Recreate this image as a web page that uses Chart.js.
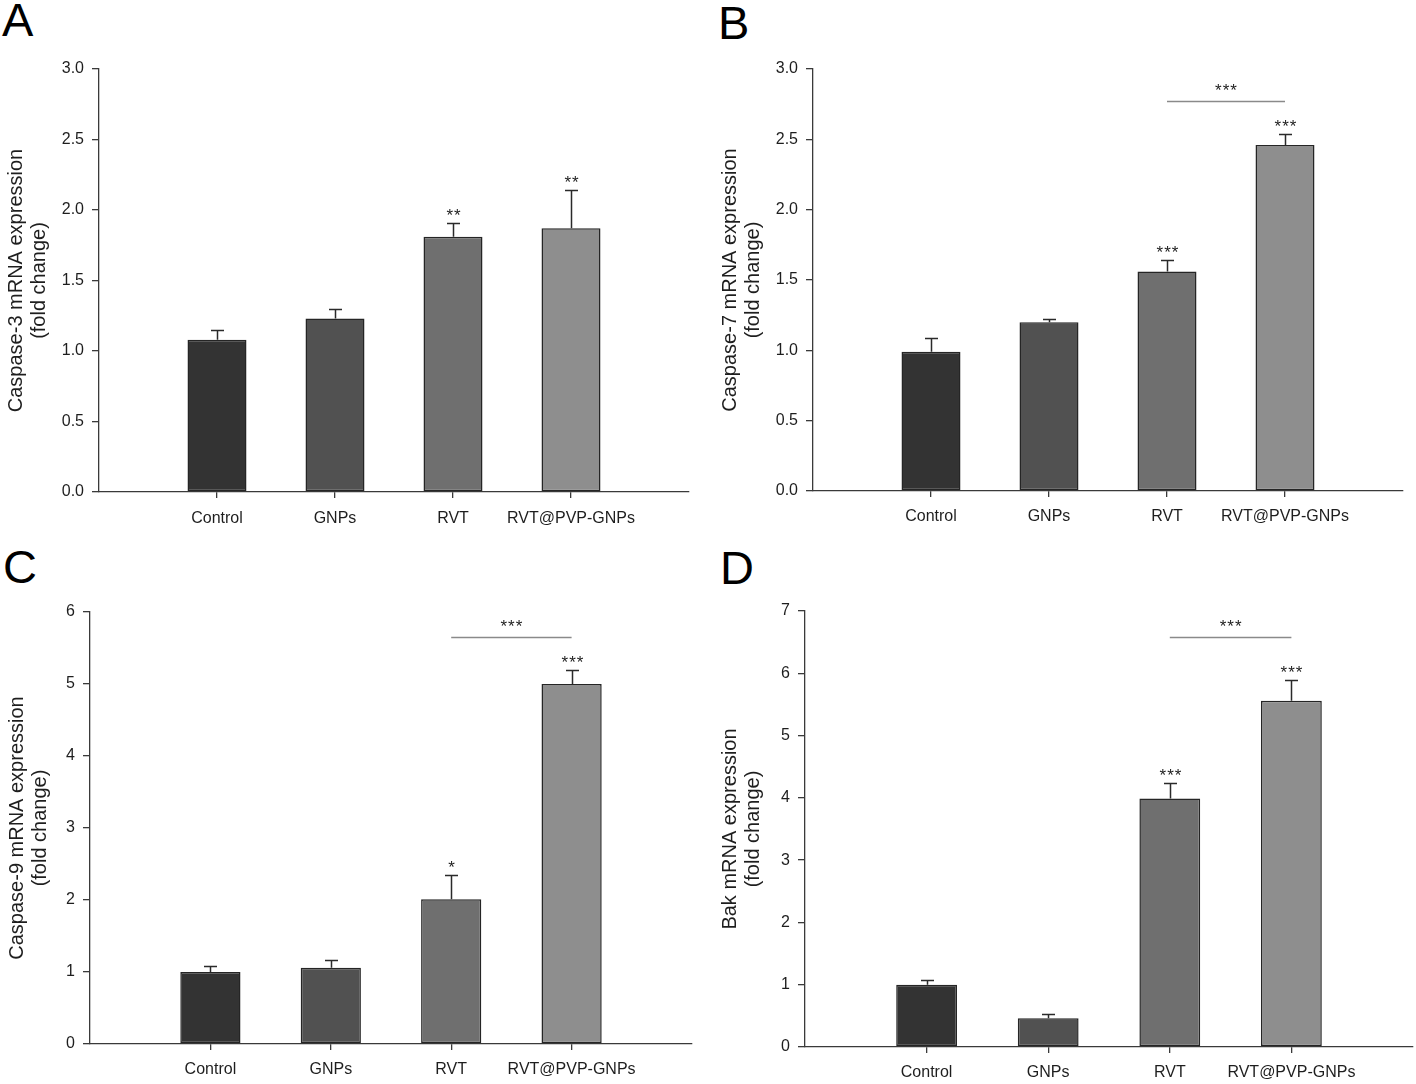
<!DOCTYPE html>
<html><head><meta charset="utf-8">
<script src="https://cdn.jsdelivr.net/npm/chart.js@4/dist/chart.umd.min.js"></script>
<style>
html,body{margin:0;padding:0;background:#fff;width:1416px;height:1084px;overflow:hidden;}
canvas{position:absolute;}
.letter{position:absolute;font-family:"Liberation Sans",Arial,sans-serif;font-size:47px;line-height:1;color:#000;}
</style></head><body>
<div class="letter" style="left:2px;top:-4px">A</div>
<div class="letter" style="left:718px;top:-1px">B</div>
<div class="letter" style="left:3px;top:543px">C</div>
<div class="letter" style="left:720px;top:544px">D</div>
<canvas id="cA" style="left:0px;top:0px" width="708" height="545"></canvas>
<canvas id="cB" style="left:708px;top:0px" width="708" height="545"></canvas>
<canvas id="cC" style="left:0px;top:545px" width="708" height="539"></canvas>
<canvas id="cD" style="left:708px;top:545px" width="708" height="539"></canvas>
<script>
// ---- data ----
const categories = ['Control', 'GNPs', 'RVT', 'RVT@PVP-GNPs'];
const barColors = ['#333333', '#515151', '#6f6f6f', '#8e8e8e'];

const meanA = [1.08, 1.23, 1.81, 1.87];
const semA  = [0.07, 0.07, 0.10, 0.27];
const starsA = ['', '', '**', '**'];

const meanB = [0.99, 1.20, 1.56, 2.46];
const semB  = [0.10, 0.02, 0.08, 0.08];
const starsB = ['', '', '***', '***'];
const bracketB = {from: 3, to: 4, y: 2.77, label: '***'};

const meanC = [1.00, 1.06, 2.01, 5.00];
const semC  = [0.09, 0.11, 0.34, 0.20];
const starsC = ['', '', '*', '***'];
const bracketC = {from: 3, to: 4, y: 5.65, label: '***'};

const meanD = [1.00, 0.46, 3.99, 5.56];
const semD  = [0.07, 0.07, 0.25, 0.33];
const starsD = ['', '', '***', '***'];
const bracketD = {from: 3, to: 4, y: 6.59, label: '***'};

const yTicksA = [0.0, 0.5, 1.0, 1.5, 2.0, 2.5, 3.0];
const yTicksB = [0.0, 0.5, 1.0, 1.5, 2.0, 2.5, 3.0];
const yTicksC = [0, 1, 2, 3, 4, 5, 6];
const yTicksD = [0, 1, 2, 3, 4, 5, 6, 7];

const titleA = ['Caspase-3 mRNA expression', '(fold change)'];
const titleB = ['Caspase-7 mRNA expression', '(fold change)'];
const titleC = ['Caspase-9 mRNA expression', '(fold change)'];
const titleD = ['Bak mRNA expression', '(fold change)'];

// ---- drawing ----
const FONT = '"Liberation Sans", Arial, sans-serif';
const AXIS = '#3a3a3a';
const TXT = '#1e1e1e';

function makeChart(id, means, sems, stars, bracket, yTicks, decimals, title, lay) {
  const annot = {
    id: 'annot_' + id,
    afterDatasetsDraw(chart) {
      const ctx = chart.ctx, x = chart.scales.x, y = chart.scales.y;
      ctx.save();
      ctx.strokeStyle = '#2a2a2a';
      ctx.lineWidth = 1.5;
      ctx.fillStyle = TXT;
      ctx.font = '17px ' + FONT;
      ctx.textAlign = 'center';
      ctx.textBaseline = 'middle';
      try { ctx.letterSpacing = '1px'; } catch (e) {}
      means.forEach((m, i) => {
        const px = Math.round(x.getPixelForValue(i + 1)) + 0.5;
        const y0 = y.getPixelForValue(m);
        const y1 = Math.round(y.getPixelForValue(m + sems[i])) + 0.5;
        ctx.beginPath();
        ctx.moveTo(px, y0);
        ctx.lineTo(px, y1);
        ctx.moveTo(px - 6.5, y1);
        ctx.lineTo(px + 6.5, y1);
        ctx.stroke();
        if (stars[i]) ctx.fillText(stars[i], px + 0.5, y1 - 7.5);
      });
      if (bracket) {
        const xa = x.getPixelForValue(bracket.from);
        const xb = x.getPixelForValue(bracket.to);
        const yb = Math.round(y.getPixelForValue(bracket.y)) + 0.5;
        ctx.strokeStyle = '#8a8a8a';
        ctx.beginPath();
        ctx.moveTo(xa, yb);
        ctx.lineTo(xb, yb);
        ctx.stroke();
        ctx.fillText(bracket.label, (xa + xb) / 2 + 0.5, yb - 10.5);
      }
      ctx.restore();
    }
  };
  return new Chart(document.getElementById(id), {
    type: 'bar',
    data: {
      datasets: [{
        data: means.map((v, i) => ({x: i + 1, y: v})),
        backgroundColor: barColors,
        borderColor: '#252525',
        borderWidth: 1.5,
        borderSkipped: false,
        categoryPercentage: 1.0,
        barPercentage: 0.5
      }]
    },
    options: {
      responsive: false,
      animation: false,
      events: [],
      layout: {padding: {left: 0, right: lay.right, top: lay.top, bottom: 0}},
      plugins: {legend: {display: false}, tooltip: {enabled: false}},
      scales: {
        x: {
          type: 'linear',
          offset: false,
          min: 0, max: categories.length + 1,
          afterBuildTicks: s => { s.ticks = categories.map((c, i) => ({value: i + 1})); },
          afterFit: s => { s.height = lay.xh; },
          grid: {offset: false, drawOnChartArea: false, drawTicks: true, tickLength: 6, color: AXIS, lineWidth: 1.3},
          border: {display: true, color: AXIS, width: 1.3},
          ticks: {
            autoSkip: false, maxRotation: 0, padding: lay.xpad,
            color: TXT, font: {family: FONT, size: 16},
            callback: v => categories[v - 1]
          }
        },
        y: {
          min: yTicks[0], max: yTicks[yTicks.length - 1],
          afterBuildTicks: s => { s.ticks = yTicks.map(v => ({value: v})); },
          afterFit: s => { s.width = lay.yw; },
          grid: {drawOnChartArea: false, drawTicks: true, tickLength: 7, color: AXIS, lineWidth: 1.3},
          border: {display: true, color: AXIS, width: 1.3},
          ticks: {
            padding: 8, color: TXT, font: {family: FONT, size: 16},
            callback: v => Number(v).toFixed(decimals)
          },
          title: {
            display: true, text: title, color: TXT,
            font: {family: FONT, size: 20, lineHeight: 1.15},
            padding: {top: lay.tpad, bottom: 0}
          }
        }
      }
    },
    plugins: [annot]
  });
}

makeChart('cA', meanA, semA, starsA, null, yTicksA, 1, titleA, {yw: 99, right: 19, top: 69, xh: 53, xpad: 11, tpad: 4.5});
makeChart('cB', meanB, semB, starsB, bracketB, yTicksB, 1, titleB, {yw: 105, right: 13, top: 69, xh: 54, xpad: 10, tpad: 11});
makeChart('cC', meanC, semC, starsC, bracketC, yTicksC, 0, titleC, {yw: 90, right: 16, top: 67, xh: 40, xpad: 10, tpad: 5.5});
makeChart('cD', meanD, semD, starsD, bracketD, yTicksD, 0, titleD, {yw: 97, right: 3, top: 66, xh: 37, xpad: 10, tpad: 11});
</script>
</body></html>
